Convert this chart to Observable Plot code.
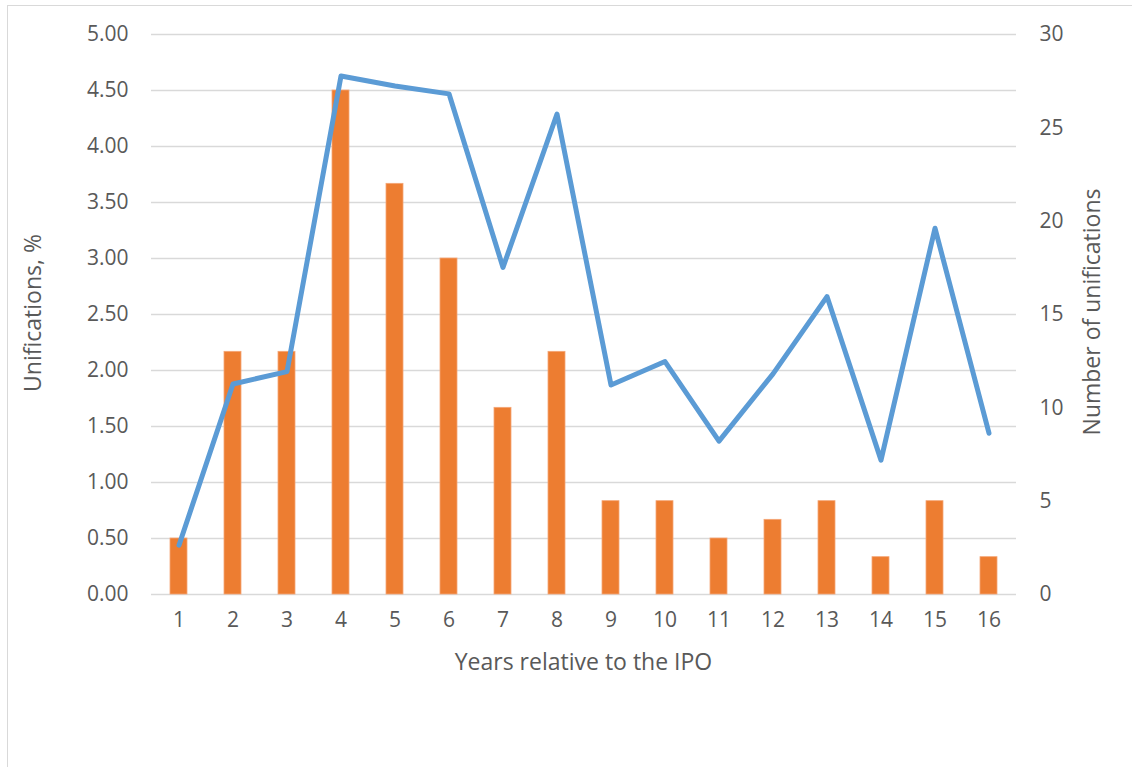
<!DOCTYPE html>
<html>
<head>
<meta charset="utf-8">
<script src="https://cdn.jsdelivr.net/npm/d3@7"></script>
<script src="https://cdn.jsdelivr.net/npm/@observablehq/plot@0.6"></script>
<style>
  html, body { margin: 0; padding: 0; background: #fff; }
  #wrap { position: absolute; left: 0; top: 0; width: 1132px; height: 767px; overflow: hidden; }
  #frame { position: absolute; left: 7px; top: 5px; width: 1140px; height: 780px; border-left: 1.5px solid #d9d9d9; border-top: 1.5px solid #d9d9d9; box-sizing: border-box; }
  #chart { position: absolute; left: 0; top: 0; }
</style>
</head>
<body>
<div id="wrap"><div id="frame"></div><div id="chart"></div></div>
<script>
const years = [1,2,3,4,5,6,7,8,9,10,11,12,13,14,15,16];
const counts = [3,13,13,27,22,18,10,13,5,5,3,4,5,2,5,2];
const percents = [0.44,1.88,1.99,4.63,4.54,4.47,2.92,4.29,1.87,2.08,1.37,1.97,2.66,1.20,3.27,1.44];
const leftTicks = [0,0.5,1,1.5,2,2.5,3,3.5,4,4.5,5];
const rightTicks = [0,5,10,15,20,25,30];
const leftTitle = "Unifications, %";
const rightTitle = "Number of unifications";
const xTitle = "Years relative to the IPO";

const leftMax = 5, rightMax = 30;
const toLeft = c => c * leftMax / rightMax;

const data = years.map((y, i) => ({year: y, count: counts[i], pct: percents[i]}));

const tickFont = "'Open Sans', 'Noto Sans', sans-serif";
const titleFont = "'Open Sans', 'Noto Sans', sans-serif";

const chart = Plot.plot({
  width: 1132,
  height: 767,
  marginTop: 34,
  marginBottom: 173,
  marginLeft: 151,
  marginRight: 116,
  style: {fontFamily: tickFont, fontSize: "21px", color: "#595959", background: "transparent", overflow: "visible"},
  x: {type: "band", domain: years, paddingInner: 0.68, paddingOuter: 0.34, label: null},
  y: {domain: [0, leftMax], label: null},
  marks: [
    Plot.gridY(leftTicks, {stroke: "#d9d9d9", strokeOpacity: 1, strokeWidth: 1.5}),
    Plot.barY(data, {x: "year", y: d => toLeft(d.count), fill: "#ed7d31", stroke: "#f4a677", strokeWidth: 0.8}),
    Plot.lineY(data, {x: "year", y: "pct", stroke: "#5b9bd5", strokeWidth: 5, strokeLinejoin: "round", strokeLinecap: "round"}),
    Plot.axisY(leftTicks, {anchor: "left", tickSize: 0, tickPadding: 23, tickFormat: d => d.toFixed(2), fill: "#595959", fontSize: 21, label: null}),
    Plot.axisY(rightTicks.map(toLeft), {anchor: "right", tickSize: 0, tickPadding: 23, tickFormat: d => String(Math.round(d * rightMax / leftMax)), fill: "#595959", fontSize: 21, label: null}),
    Plot.axisX(years, {anchor: "bottom", tickSize: 0, tickPadding: 18, fill: "#595959", fontSize: 21, label: null})
  ]
});

const svg = d3.select(chart);
svg.append("text")
  .attr("x", 583.5).attr("y", 670)
  .attr("text-anchor", "middle")
  .attr("font-family", titleFont).attr("font-size", 23).attr("fill", "#595959")
  .text(xTitle);
svg.append("text")
  .attr("transform", "translate(41,313) rotate(-90)")
  .attr("text-anchor", "middle")
  .attr("font-family", titleFont).attr("font-size", 23).attr("fill", "#595959")
  .text(leftTitle);
svg.append("text")
  .attr("transform", "translate(1100,312) rotate(-90)")
  .attr("text-anchor", "middle")
  .attr("font-family", titleFont).attr("font-size", 23).attr("fill", "#595959")
  .text(rightTitle);

document.getElementById("chart").appendChild(chart);
</script>
</body>
</html>
